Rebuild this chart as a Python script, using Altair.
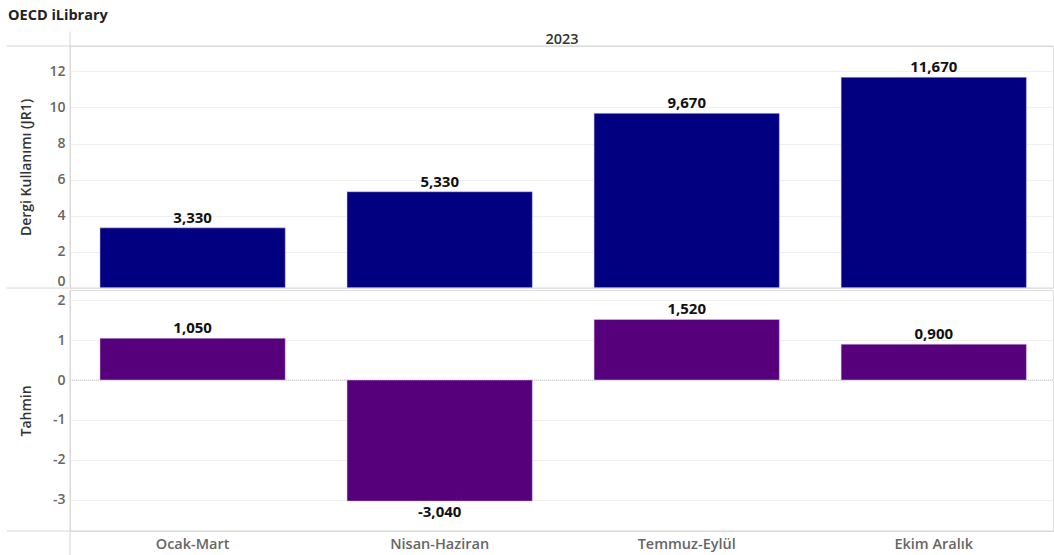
import altair as alt
import pandas as pd

periods = ["Ocak-Mart", "Nisan-Haziran", "Temmuz-Eylül", "Ekim Aralık"]
usage = [3.33, 5.33, 9.67, 11.67]
forecast = [1.05, -3.04, 1.52, 0.90]
usage_ticks = [0, 2, 4, 6, 8, 10, 12]
forecast_ticks = [-3, -2, -1, 0, 1, 2]
year = "2023"
title = "OECD iLibrary"


def fmt(v):
    return f"{v:.3f}".replace(".", ",")


top_df = pd.DataFrame({"period": periods, "value": usage, "label": [fmt(v) for v in usage]})
bot_df = pd.DataFrame({"period": periods, "value": forecast, "label": [fmt(v) for v in forecast]})

FONT = "Open Sans"
W = 983
H_TOP = 242
H_BOT = 241
GRID = "#efefef"
BORDER = "#d6d6d6"
LABEL_GRAY = "#666666"
TITLE_GRAY = "#333333"

xscale = alt.Scale(domain=periods, paddingInner=0.25, paddingOuter=0.1145, align=0.53)


def yaxis(title_text, ticks, flush):
    return alt.Axis(
        title=title_text, values=ticks, ticks=False, domain=False, labelFlush=flush,
        labelExpr="toString(datum.value)",
        grid=True, gridColor=GRID, gridWidth=1, labelPadding=5,
        minExtent=30, maxExtent=30, titlePadding=7,
        labelFont=FONT, labelFontSize=14, labelFontWeight=600, labelColor=LABEL_GRAY,
        titleFont=FONT, titleFontSize=14, titleFontWeight=600, titleColor=TITLE_GRAY,
    )


one = pd.DataFrame({"d": [0]})

# ---------- top panel ----------
top_base = alt.Chart(top_df)
top_bars = top_base.mark_bar(color="#020080", stroke="#c9c9e6", strokeWidth=0.5).encode(
    x=alt.X("period:N", sort=periods, scale=xscale, axis=None),
    y=alt.Y("value:Q", scale=alt.Scale(domain=[0, 13.4], nice=False, zero=False),
            axis=yaxis("Dergi Kullanımı (JR1)", usage_ticks, True)),
)
top_labels = top_base.mark_text(baseline="bottom", dy=-2, font=FONT, fontSize=15,
                                fontWeight="bold", color="#111111").encode(
    x=alt.X("period:N", sort=periods, scale=xscale, axis=None),
    y=alt.Y("value:Q"),
    text="label:N",
)
top_header = alt.Chart(pd.DataFrame({"t": [year]})).mark_text(
    font=FONT, fontSize=14.5, fontWeight=600, color=TITLE_GRAY, baseline="middle"
).encode(text="t:N", x=alt.value(492), y=alt.value(-6))
chart_title = alt.Chart(pd.DataFrame({"t": [title]})).mark_text(
    font=FONT, fontSize=14.5, fontWeight="bold", color="#222222", baseline="middle", align="left"
).encode(text="t:N", x=alt.value(-62), y=alt.value(-30))
top_hline_a = alt.Chart(one).mark_rule(color=BORDER, strokeWidth=1).encode(
    x=alt.value(-63), x2=alt.value(W), y=alt.value(0))
top_hline_b = alt.Chart(one).mark_rule(color=BORDER, strokeWidth=1).encode(
    x=alt.value(-63), x2=alt.value(W), y=alt.value(H_TOP))
top_vline = alt.Chart(one).mark_rule(color=BORDER, strokeWidth=1).encode(
    x=alt.value(0), y=alt.value(-14), y2=alt.value(H_TOP))

top = alt.layer(top_bars, top_labels, top_header, chart_title,
                top_hline_a, top_hline_b, top_vline).properties(width=W, height=H_TOP)

# ---------- bottom panel ----------
bot_base = alt.Chart(bot_df)
xb = alt.X("period:N", sort=periods, scale=xscale,
           axis=alt.Axis(title=None, labelAngle=0, ticks=False, domain=False, grid=False,
                         labelPadding=6, labelFont=FONT, labelFontSize=14.5, labelFontWeight=600,
                         labelColor=LABEL_GRAY))
bot_bars = bot_base.mark_bar(color="#56007b", stroke="#dcc8ea", strokeWidth=0.5).encode(
    x=xb,
    y=alt.Y("value:Q", scale=alt.Scale(domain=[-3.79, 2.26], nice=False, zero=False),
            axis=yaxis("Tahmin", forecast_ticks, False)),
)
bot_zero = alt.Chart(pd.DataFrame({"z": [0]})).mark_rule(
    color="#c4c4c4", strokeDash=[1, 1], strokeWidth=1).encode(y="z:Q")
bot_pos = bot_base.transform_filter("datum.value >= 0").mark_text(
    baseline="bottom", dy=-2, font=FONT, fontSize=15, fontWeight="bold", color="#111111").encode(
    x=alt.X("period:N", sort=periods, scale=xscale), y="value:Q", text="label:N")
bot_neg = bot_base.transform_filter("datum.value < 0").mark_text(
    baseline="top", dy=4, font=FONT, fontSize=15, fontWeight="bold", color="#111111").encode(
    x=alt.X("period:N", sort=periods, scale=xscale), y="value:Q", text="label:N")
bot_hline = alt.Chart(one).mark_rule(color=BORDER, strokeWidth=1).encode(
    x=alt.value(-63), x2=alt.value(W), y=alt.value(H_BOT))
bot_vline = alt.Chart(one).mark_rule(color=BORDER, strokeWidth=1).encode(
    x=alt.value(0), y=alt.value(0), y2=alt.value(H_BOT + 26))

bottom = alt.layer(bot_zero, bot_bars, bot_pos, bot_neg, bot_hline, bot_vline).properties(
    width=W, height=H_BOT)

chart = alt.vconcat(top, bottom, spacing=0).resolve_scale(y="independent").properties(
    padding={"left": 6, "top": 7, "right": 0, "bottom": 0},
).configure_view(stroke=None).configure(background="white")

chart.save("out.html", embed_options={"renderer": "svg", "actions": False})
